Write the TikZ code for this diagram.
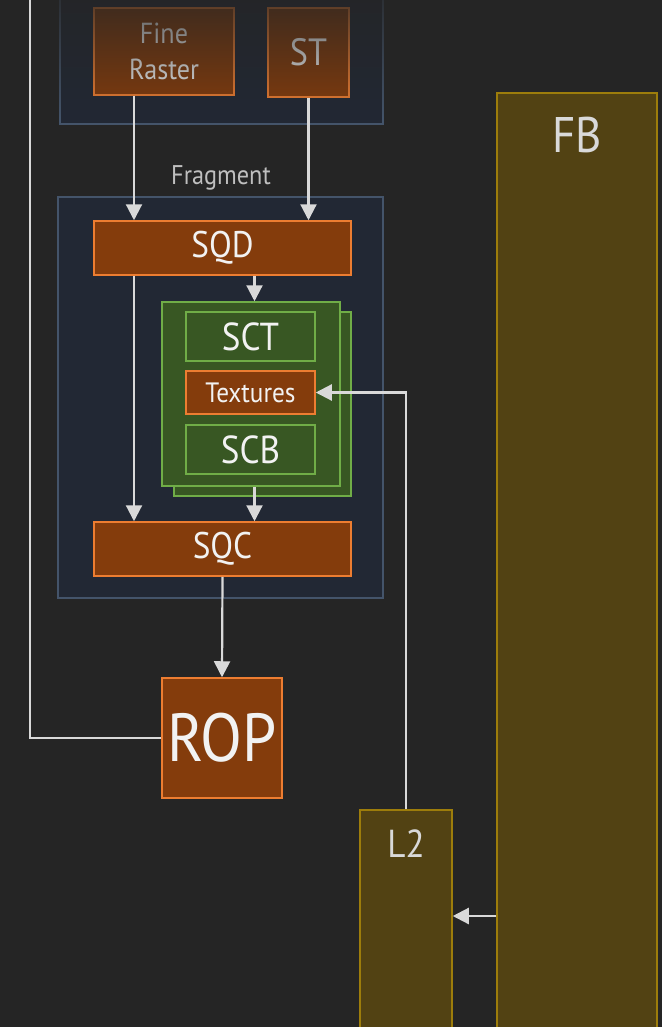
\documentclass[tikz,border=0pt]{standalone}
\usepackage{fontspec}
\setmainfont{PT Sans}[FakeStretch=0.9]
\usepackage{tikz}
\usetikzlibrary{arrows.meta,positioning,calc,fadings}
\definecolor{bgdark}{HTML}{252525}
\definecolor{grpfill}{HTML}{222834}
\definecolor{grpline}{HTML}{44546A}
\definecolor{rustfill}{HTML}{843C0C}
\definecolor{rustline}{HTML}{ED7D31}
\definecolor{leaffill}{HTML}{385723}
\definecolor{leafline}{HTML}{70AD47}
\definecolor{goldfill}{HTML}{524213}
\definecolor{goldline}{HTML}{9D7D0B}
\definecolor{wire}{HTML}{D9D9D9}
\tikzset{
  grp/.style     = {draw=grpline, fill=grpfill, line width=1.5pt, inner sep=0pt},
  rustbox/.style = {draw=rustline, fill=rustfill, line width=1.5pt, text=white!95!black,
                    align=center, inner sep=0pt},
  leafbox/.style = {draw=leafline, fill=leaffill, line width=1.5pt, text=white!95!black,
                    align=center, inner sep=0pt},
  goldbox/.style = {draw=goldline, fill=goldfill, line width=1.5pt, inner sep=0pt},
  flow/.style    = {-{Triangle[length=16pt,width=16pt]}, draw=wire, line width=2.2pt},
  wireline/.style= {draw=wire, line width=2.2pt},
}

\begin{document}
\begin{tikzpicture}[x=1pt,y=-1pt]
    \fill[bgdark] (0,0) rectangle (662,1027);
    \useasboundingbox (0,0) rectangle (662,1027);
    % raster stage, fading out at the top
    \node[grp,minimum width=323pt,minimum height=144pt] (rg) at (221.5,52) {};
    \node[rustbox,minimum width=140pt,minimum height=87pt,font=\fontsize{29}{36}\selectfont] (fine) at (164,51.5)
      {Fine\\Raster};
    \node[rustbox,minimum width=81pt,minimum height=89pt,font=\fontsize{38}{38}\selectfont] (st) at (308.5,52.5) {ST};
    \fill[bgdark,path fading=south] (0,-40) rectangle (400,120);
    % fragment stage
    \node[font=\fontsize{27}{27}\selectfont,text=white!75!black] (fraglbl) at (221,178) {Fragment};
    \node[grp,minimum width=325pt,minimum height=401pt] (fg) at (220.5,397.5) {};
    \node[rustbox,minimum width=257pt,minimum height=54pt,font=\fontsize{37}{37}\selectfont] (sqd) at (222.5,248) {SQD};
    \node[leafbox,minimum width=177pt,minimum height=184pt] (stackb) at (262.5,404) {};
    \node[leafbox,minimum width=178pt,minimum height=184pt] (stackf) at (251,394) {};
    \node[leafbox,minimum width=129pt,minimum height=49pt,font=\fontsize{39}{39}\selectfont] (sct) at (250.5,336.5) {SCT};
    \node[rustbox,minimum width=129pt,minimum height=43pt,font=\fontsize{28}{28}\selectfont] (tex) at (250.5,392.5) {Textures};
    \node[leafbox,minimum width=129pt,minimum height=49pt,font=\fontsize{39}{39}\selectfont] (scb) at (250.5,449.5) {SCB};
    \node[rustbox,minimum width=257pt,minimum height=54pt,font=\fontsize{37}{37}\selectfont] (sqc) at (222.5,549) {SQC};
    \node[rustbox,minimum width=120pt,minimum height=120pt,font=\fontsize{68}{68}\selectfont] (rop) at (222,738) {ROP};
    % memory
    \node[goldbox,minimum width=92pt,minimum height=230pt] (l2) at (406,925) {};
    \node[text=wire,font=\fontsize{39}{39}\selectfont] (l2lbl) at (406,844) {L2};
    \node[goldbox,minimum width=160pt,minimum height=947pt] (fb) at (577,566.5) {};
    \node[text=wire,font=\fontsize{50}{50}\selectfont] (fblbl) at (577,135) {FB};
    \coordinate (feed) at (30,-5);
    \coordinate (l2in) at ([yshift=9pt]l2.east);
    \draw[flow] ([xshift=-30pt]fine.south) -- ([xshift=-30pt]fine.south |- sqd.north);
    \draw[flow] (st.south) -- (st.south |- sqd.north);
    \draw[flow] ([xshift=-88.5pt]sqd.south) -- ([xshift=-88.5pt]sqc.north);
    \draw[flow] ([xshift=32pt]sqd.south) -- ([xshift=32pt]sqd.south |- stackf.north);
    \draw[flow] ([xshift=32pt]sqd.south |- stackf.south) -- ([xshift=32pt]sqc.north);
    \draw[flow] (sqc.south) -- (rop.north);
    \draw[wireline] (rop.west) -| (feed);
    \draw[flow] (l2.north) |- (tex.east);
    \draw[flow] (fb.west |- l2in) -- (l2in);
  \end{tikzpicture}
\end{document}
